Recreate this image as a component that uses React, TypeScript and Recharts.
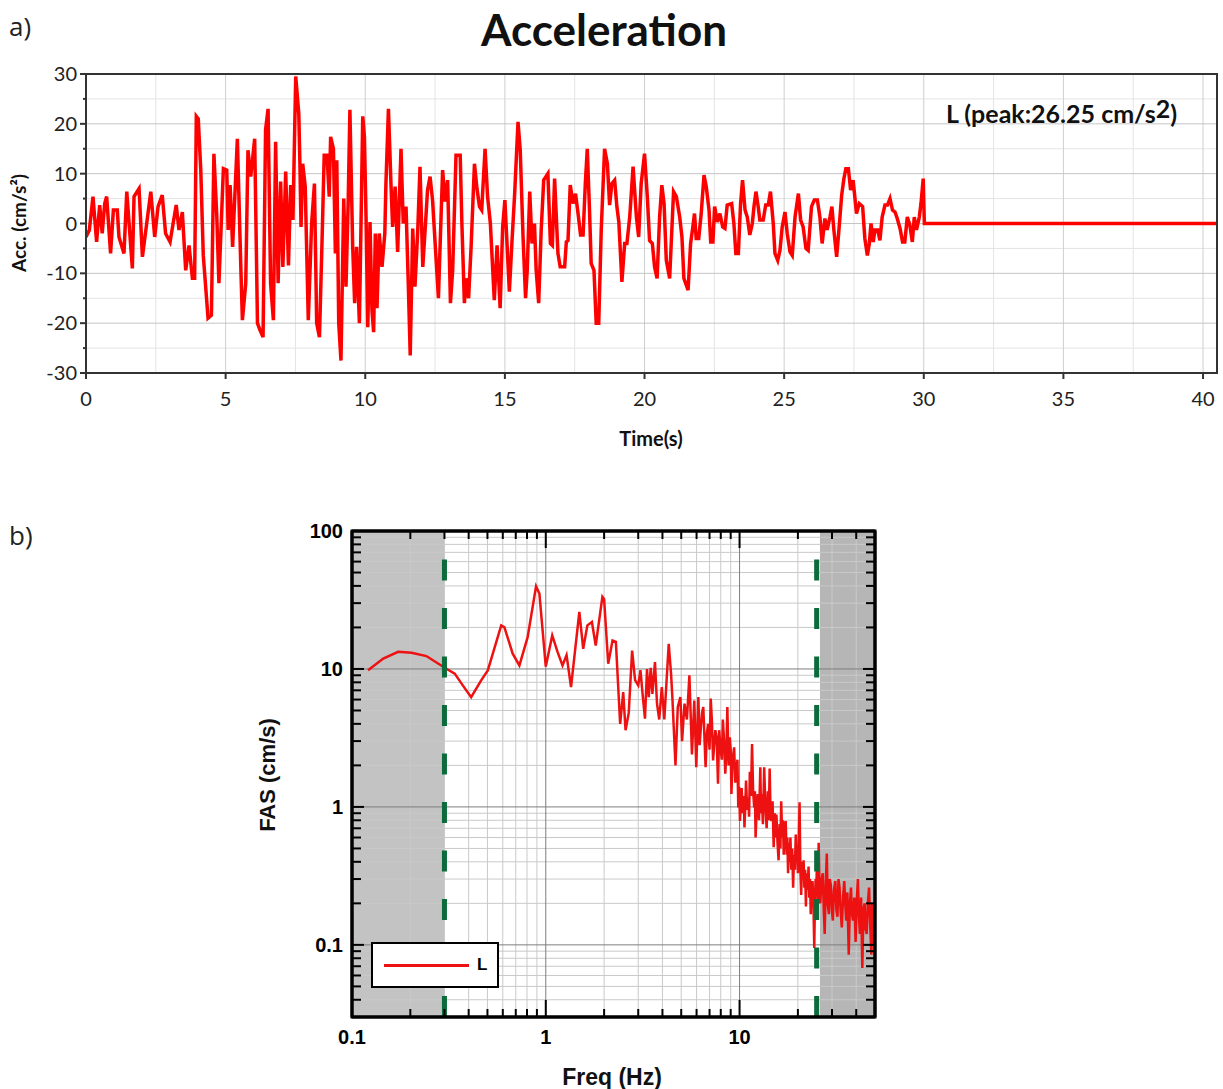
import React from 'react';
import { LineChart, ComposedChart, Line, XAxis, YAxis, ReferenceLine, ReferenceArea } from 'recharts';

// ---- a) acceleration record ----
const accTime = [
  0.0, 0.12, 0.25, 0.38, 0.49, 0.58, 0.67, 0.74, 0.88, 0.98, 1.12, 1.18, 1.36, 1.46, 1.66, 1.72, 1.9, 2.02,
  2.32, 2.46, 2.58, 2.73, 2.85, 3.01, 3.23, 3.33, 3.45, 3.57, 3.69, 3.81, 3.89, 3.95, 4.02, 4.11, 4.2, 4.37,
  4.49, 4.58, 4.68, 4.76, 4.92, 5.04, 5.09, 5.16, 5.25, 5.42, 5.54, 5.6, 5.72, 5.8, 5.9, 6.04, 6.14, 6.23,
  6.34, 6.43, 6.52, 6.61, 6.71, 6.79, 6.88, 6.97, 7.05, 7.15, 7.25, 7.33, 7.41, 7.51, 7.62, 7.66, 7.7, 7.76,
  7.85, 7.96, 8.08, 8.18, 8.26, 8.36, 8.45, 8.53, 8.63, 8.71, 8.76, 8.86, 8.93, 8.98, 9.05, 9.13, 9.23, 9.31,
  9.39, 9.45, 9.55, 9.62, 9.69, 9.79, 9.91, 9.97, 10.03, 10.09, 10.17, 10.24, 10.3, 10.36, 10.42, 10.5, 10.6,
  10.7, 10.74, 10.83, 10.92, 10.98, 11.07, 11.16, 11.28, 11.36, 11.46, 11.54, 11.61, 11.7, 11.78, 11.88,
  11.96, 12.06, 12.15, 12.23, 12.32, 12.41, 12.51, 12.62, 12.69, 12.77, 12.86, 12.95, 13.05, 13.13, 13.25,
  13.4, 13.46, 13.55, 13.61, 13.7, 13.79, 13.91, 14.0, 14.09, 14.17, 14.29, 14.38, 14.48, 14.62, 14.72,
  14.83, 14.92, 15.0, 15.16, 15.25, 15.35, 15.47, 15.55, 15.65, 15.74, 15.8, 15.89, 15.97, 16.06, 16.12,
  16.21, 16.3, 16.39, 16.54, 16.63, 16.7, 16.78, 16.9, 16.98, 17.14, 17.2, 17.26, 17.34, 17.44, 17.53, 17.62,
  17.71, 17.8, 17.88, 17.95, 18.03, 18.09, 18.19, 18.27, 18.36, 18.45, 18.57, 18.67, 18.75, 18.83, 18.93,
  19.01, 19.08, 19.19, 19.29, 19.37, 19.47, 19.59, 19.71, 19.79, 19.88, 20.0, 20.1, 20.18, 20.28, 20.36,
  20.45, 20.54, 20.62, 20.7, 20.78, 20.9, 21.04, 21.14, 21.26, 21.34, 21.41, 21.56, 21.65, 21.73, 21.79,
  21.85, 21.94, 22.03, 22.13, 22.21, 22.31, 22.37, 22.45, 22.51, 22.61, 22.7, 22.8, 22.88, 22.96, 23.12,
  23.2, 23.27, 23.36, 23.44, 23.51, 23.6, 23.68, 23.77, 23.86, 23.92, 23.99, 24.07, 24.13, 24.25, 24.34,
  24.43, 24.51, 24.61, 24.67, 24.77, 24.85, 24.93, 25.03, 25.11, 25.21, 25.29, 25.39, 25.51, 25.59, 25.68,
  25.78, 25.86, 25.98, 26.08, 26.19, 26.28, 26.36, 26.46, 26.54, 26.64, 26.71, 26.78, 26.88, 26.97, 27.06,
  27.14, 27.21, 27.3, 27.38, 27.47, 27.59, 27.69, 27.81, 27.89, 27.98, 28.05, 28.11, 28.19, 28.25, 28.35,
  28.43, 28.51, 28.61, 28.7, 28.79, 28.88, 28.97, 29.05, 29.15, 29.24, 29.32, 29.41, 29.5, 29.59, 29.66,
  29.74, 29.84, 29.9, 29.98, 30.02, 40.5,
];
const accValue = [
  -2.7, -1.3, 5.4, -3.7, 3.7, -2, 4, 5.4, -6, 2.7, 2.7, -2.7, -6, 6.4, -9, 5.4, 7, -6.7,
  6.4, -2.7, 3.4, 5.7, -2, -3.7, 3.7, -1.3, 2.3, -9.4, -4.4, -11, -11, 21.5, 21, 10.7, -6.4, -19,
  -18.4, 14, 2, -12, 11, 10.7, -1.3, 7.7, -4.7, 17, -8, -19.4, -12, 14.7, 9.4, 17, -20, -21.4,
  -22.8, 18.8, 23, -12, -19.4, 16.4, -12, 8.4, -8.7, 10.4, -8.4, 7.7, 0.7, 29.5, 22, 12, -0.7, 12,
  7.4, -19.4, 0, 8, -20, -22.8, -4, 13.7, 13.7, 5.4, 17.4, 15, -6, 12.7, -20, -27.5, 5, -12.7,
  4.7, 22.8, -4.7, -16, -4.7, -20, 21.5, 17.4, 0.7, -20.8, 0.3, -17.4, -21.8, -2, -17, -2, -8.7,
  -2, 8, 23, 8, -0.7, 7.4, -5.7, 15, 0, 3.4, -12, -26.5, -1, -12.7, -1.3,
  11.4, -8.7, -0.7, 6.7, 9.4, 4.7, -4.7, -15, -2.7, 10.7, 4.4, 8.7, -16, -9.4, 13.7,
  13.7, 0, -16, -11, -15, -4.7, 12, 7, 3.4, 2.7, 15, 5.4, 0, -15.4, -4.4,
  -17, -0.7, 4.7, -13.7, -4, 6, 20.4, 14.7, -2.7, -15, -9.4, 6.4, -4, 0, -9.4,
  -16, -1.3, 8.7, 10, -4, -4.4, 9, -6, -8.7, -8.7, -3.7, -3.4, 7.7, 4, 6, 2,
  -2.3, -2.3, 8, 15, 2.7, -8, -9.4, -20, -20, -1.3, 15, 12, 3.7, 8, 8.7,
  3.4, 0.3, -11.7, -4, -4, 1.3, 11.4, 1.3, -2.7, 8, 14, 5.4, -3.4, -4, -8.7,
  -11, 1.3, 7.7, 4, -7.4, -11, 6.4, 5.4, 1.3, -2.7, -11, -13.4, -4, -0.7, 2,
  -3, -3, 2, 9.7, 7.4, 2.7, -3.7, -3.7, 3.4, 0.3, 2, -0.7, -1, 3.7, 4,
  0, -6, -6, 4, 8.7, 2.7, 1.3, -2.3, 0, 3.4, 6.4, 3.4, 0.7, 0.7, 3.7,
  3.7, 6.4, 0, -6, -7.4, -5.4, -0.7, 2.3, -2, -5.7, -6.4, 1.3, 6, 0.7, -0.7,
  -5, -5.4, 3.4, 4.7, 4.7, 1.3, -4, 1, -1.3, 1.3, 3.4, -1.3, -6.7, -0.7, 5.7,
  9, 11, 11, 6.7, 8.7, 2, 4, 3.4, -3, -6.4, -4, 0, -3.7, -1.3, -1.3,
  -3.4, 1.3, 3.7, 3.7, 5, 2.7, 2.3, 1, -1, -3.7, -3.7, 1.3, -0.3, -3.7, 1.3,
  -1.3, 1.3, 4, 9, 0, 0,
];
const timeTicks = [0, 5, 10, 15, 20, 25, 30, 35, 40];
const timeMinorGrid = [2.5, 7.5, 12.5, 17.5, 22.5, 27.5, 32.5, 37.5];
const accTicks = [-30, -25, -20, -15, -10, -5, 0, 5, 10, 15, 20, 25, 30];
const accMajorGrid = [-20, -10, 0, 10, 20];
const accMinorGrid = [-25, -15, -5, 5, 15, 25];

// ---- b) Fourier amplitude spectrum ----
const freq = [
  0.121, 0.145, 0.173, 0.203, 0.242, 0.301, 0.339, 0.373, 0.412, 0.464, 0.502, 0.533, 0.589, 0.612, 0.675,
  0.731, 0.806, 0.891, 0.927, 1.0, 1.08, 1.15, 1.22, 1.28, 1.35, 1.49, 1.56, 1.64, 1.73, 1.81, 1.96, 2.0,
  2.1, 2.21, 2.3, 2.42, 2.51, 2.58, 2.68, 2.79, 2.89, 3.0, 3.08, 3.17, 3.25, 3.33, 3.4, 3.48, 3.55, 3.66,
  3.75, 3.85, 3.97, 4.09, 4.31, 4.43, 4.5, 4.67, 4.8, 4.95, 5.05, 5.2, 5.35, 5.51, 5.68, 5.84,
  5.98, 6.13, 6.22, 6.3, 6.4, 6.5, 6.6, 6.68, 6.78, 6.88, 7.0, 7.1, 7.2, 7.3, 7.4, 7.5, 7.62, 7.74, 7.85,
  7.97, 8.1, 8.2, 8.32, 8.44, 8.55, 8.65, 8.78, 8.9, 9.0, 9.08, 9.2, 9.38, 9.5, 9.66, 9.75, 9.85,
  9.95, 10.05, 10.15, 10.25, 10.4, 10.5, 10.6, 10.7, 10.8, 10.95, 11.1, 11.2, 11.3, 11.45, 11.6, 11.75,
  11.9, 12.0, 12.1, 12.25, 12.4, 12.6, 12.8, 12.9, 13.0, 13.2, 13.4, 13.6, 13.8, 14.0, 14.15, 14.3, 14.45,
  14.6, 14.8, 15.0, 15.2, 15.35, 15.5, 15.7, 15.9, 16.1, 16.25, 16.4, 16.6, 16.75, 16.9, 17.1, 17.3, 17.5,
  17.65, 17.8, 18.0, 18.15, 18.3, 18.5, 18.7, 18.9, 19.1, 19.3, 19.5, 19.7, 19.85, 20.0, 20.2, 20.4, 20.6,
  20.8, 21.0, 21.2, 21.4, 21.6, 21.8, 22.0, 22.2, 22.45, 22.7, 22.9, 23.1, 23.3, 23.5, 23.65, 23.8, 24.05,
  24.3, 24.5, 24.7, 24.9, 25.1, 25.3, 25.6, 25.85, 26.1, 26.5, 26.9, 27.2, 27.5, 27.8, 28.2, 28.5, 28.9,
  29.2, 29.6, 29.95, 30.3, 30.7, 31.2, 31.6, 32.0, 32.4, 32.8, 33.2, 33.7, 34.2, 34.7, 35.1, 35.5, 36.0,
  36.6, 37.1, 37.6, 38.0, 38.5, 39.1, 39.7, 40.2, 40.8, 41.3, 41.8, 42.4, 43.0, 43.6, 44.2, 44.7, 45.3,
  45.9, 46.6, 47.2, 47.9, 48.4, 48.9, 49.5, 50,
];
const fas = [
  9.77, 11.9, 13.3, 13.1, 12.4, 10.2, 9.25, 7.6, 6.25, 8.27, 9.77, 12.9, 20.7, 20.0, 12.9,
  10.6, 17.0, 39.8, 35.2, 10.4, 17.5, 13.3, 10.6, 12.6, 7.4, 25.9, 14.0, 20.7, 21.9, 14.8, 33.3, 32,
  10.9, 16.1, 15.7, 4.0, 6.8, 3.6, 4.8, 13.6, 8.3, 7.6, 9.8, 6.25, 4.36, 10.0, 6.25, 10.2, 6.6, 11.2,
  5.6, 4.3, 7.4, 4.3, 15.2, 9.25, 6.25, 2.0, 5.3, 6.25, 3.0, 5.6, 4.3, 9.0, 2.4, 5.9,
  1.94, 6.25, 2.8, 3.6, 4.8, 5.3, 3.0, 1.94, 3.4, 4.0, 2.6, 6.1, 4.2, 2.17, 2.8, 3.6, 3.2, 1.47, 3.6,
  2.7, 2.2, 4.3, 3.0, 1.74, 2.5, 5.3, 2.0, 3.2, 2.6, 1.24, 2.2, 2.7, 1.5, 1.94, 2.2, 0.99,
  1.4, 0.79, 1.1, 1.37, 0.9, 1.2, 0.71, 1.0, 1.55, 0.95, 1.17, 0.85, 1.8, 1.2, 2.86, 1.3,
  0.99, 1.3, 0.6, 0.95, 1.24, 0.8, 1.94, 0.9, 1.24, 0.75, 1.94, 1.0, 0.7, 1.3, 0.8, 1.9, 0.9,
  0.79, 1.1, 0.51, 0.9, 0.6, 0.88, 0.55, 0.41, 0.75, 0.5, 1.1, 0.6, 0.8, 0.45, 0.65, 0.79, 0.45,
  0.6, 0.33, 0.55, 0.4, 0.6, 0.35, 0.5, 0.26, 0.45, 0.35, 0.63, 0.4, 0.5, 0.33, 0.55, 1.08, 0.35,
  0.23, 0.4, 0.3, 0.41, 0.26, 0.35, 0.19, 0.33, 0.25, 0.37, 0.22, 0.3, 0.167, 0.26, 0.2, 0.29, 0.2,
  0.095, 0.22, 0.3, 0.26, 0.4, 0.2, 0.55, 0.25, 0.2, 0.3, 0.33, 0.18, 0.12, 0.25, 0.46, 0.2, 0.167,
  0.3, 0.27, 0.18, 0.15, 0.25, 0.29, 0.18, 0.16, 0.3, 0.26, 0.18, 0.134, 0.22, 0.29, 0.2, 0.15, 0.24,
  0.085, 0.2, 0.26, 0.17, 0.15, 0.22, 0.105, 0.2, 0.3, 0.16, 0.12, 0.22, 0.068, 0.18, 0.2, 0.13, 0.12,
  0.2, 0.26, 0.14, 0.085, 0.2, 0.167, 0.1, 0.134,
];
const freqMajor = [0.1, 1, 10];
const freqMinor = [0.2, 0.3, 0.4, 0.5, 0.6, 0.7, 0.8, 0.9, 2, 3, 4, 5, 6, 7, 8, 9, 20, 30, 40];
const fasMajor = [0.1, 1, 10, 100];
const fasMinor = [0.04, 0.05, 0.06, 0.07, 0.08, 0.09, 0.2, 0.3, 0.4, 0.5, 0.6, 0.7, 0.8, 0.9, 2, 3, 4, 5, 6, 7, 8, 9, 20, 30, 40, 50, 60, 70, 80, 90];
const fasLabels: Record<number, string> = { 0.1: '0.1', 1: '1', 10: '10', 100: '100' };
const freqLabels: Record<number, string> = { 0.1: '0.1', 1: '1', 10: '10' };
const cutoffFreq = [0.3, 25];
const shadedBands = [
  { from: 0.1, to: 0.3, color: '#c3c3c3' },
  { from: 26, to: 50, color: '#b6b6b6' },
];

const accData = accTime.map((t, i) => ({ t, acc: accValue[i] }));
const fasData = freq.map((f, i) => ({ f, amp: fas[i] }));

const fontA = 'Lato, "Open Sans", sans-serif';
const fontB = '"Liberation Sans", Arial, sans-serif';

const TimeTick = (props: any) => {
  const { x, y, payload } = props;
  return (
    <g>
      <line x1={x} x2={x} y1={y} y2={y + 6} stroke="#333" strokeWidth={2} />
      <text x={x} y={y + 33} textAnchor="middle" fontSize={20} fontFamily={fontA} fill="#222">
        {payload.value}
      </text>
    </g>
  );
};

const AccTick = (props: any) => {
  const { x, y, payload } = props;
  const major = payload.value % 10 === 0;
  return (
    <g>
      <line x1={x - (major ? 6 : 3)} x2={x} y1={y} y2={y} stroke="#333" strokeWidth={2} />
      {major && (
        <text x={x - 9} y={y + 7} textAnchor="end" fontSize={20} fontFamily={fontA} fill="#222">
          {payload.value}
        </text>
      )}
    </g>
  );
};

const FreqTickBottom = (props: any) => {
  const { x, y, payload } = props;
  const label = freqLabels[payload.value];
  const major = label !== undefined;
  return (
    <g>
      <line x1={x} x2={x} y1={y} y2={y - (major ? 17 : 8)} stroke="#000" strokeWidth={2} />
      {major && (
        <text x={x} y={y + 27} textAnchor="middle" fontSize={20} fontWeight="bold" fontFamily={fontB} fill="#000">
          {label}
        </text>
      )}
    </g>
  );
};

const FreqTickTop = (props: any) => {
  const { x, y, payload } = props;
  const major = freqLabels[payload.value] !== undefined;
  return <line x1={x} x2={x} y1={y} y2={y + (major ? 17 : 8)} stroke="#000" strokeWidth={2} />;
};

const FasTickLeft = (props: any) => {
  const { x, y, payload } = props;
  const label = fasLabels[payload.value];
  const major = label !== undefined;
  return (
    <g>
      <line x1={x} x2={x + (major ? 12 : 9)} y1={y} y2={y} stroke="#000" strokeWidth={2} />
      {major && (
        <text x={x - 9} y={y + 7} textAnchor="end" fontSize={20} fontWeight="bold" fontFamily={fontB} fill="#000">
          {label}
        </text>
      )}
    </g>
  );
};

const FasTickRight = (props: any) => {
  const { x, y, payload } = props;
  const major = fasLabels[payload.value] !== undefined;
  return <line x1={x} x2={x - (major ? 12 : 9)} y1={y} y2={y} stroke="#000" strokeWidth={2} />;
};

const abs = (left: number, top: number, extra: React.CSSProperties = {}): React.CSSProperties => ({
  position: 'absolute',
  left,
  top,
  whiteSpace: 'nowrap',
  lineHeight: 1,
  ...extra,
});

export default function App() {
  return (
    <div style={{ position: 'absolute', left: 0, top: 0, width: 1223, height: 1089, background: '#fff', overflow: 'hidden' }}>
      {/* panel a */}
      <div style={abs(9, 13, { fontFamily: '"Open Sans", sans-serif', fontSize: 26, color: '#222' })}>a)</div>
      <div style={abs(604, 7, { transform: 'translateX(-50%)', fontFamily: fontA, fontWeight: 'bold', fontSize: 44, color: '#111' })}>
        Acceleration
      </div>
      <div style={abs(0, 0, { width: 1223 })}>
        <LineChart width={1223} height={460} data={accData} margin={{ top: 74, right: 6, bottom: 57, left: 26 }}>
          <XAxis
            dataKey="t"
            type="number"
            domain={[0, 40.5]}
            allowDataOverflow
            ticks={timeTicks}
            interval={0}
            tickSize={0}
            tickMargin={0}
            tickLine={false}
            tick={TimeTick}
            height={30}
            axisLine={{ stroke: '#333', strokeWidth: 2 }}
          />
          <YAxis
            type="number"
            domain={[-30, 30]}
            allowDataOverflow
            ticks={accTicks}
            interval={0}
            tickSize={0}
            tickMargin={0}
            tickLine={false}
            tick={AccTick}
            width={60}
            axisLine={{ stroke: '#333', strokeWidth: 2 }}
          />
          {timeMinorGrid.map((v) => (
            <ReferenceLine key={'tm' + v} x={v} stroke="#e4e4e4" strokeWidth={1} zIndex={-60} />
          ))}
          {accMinorGrid.map((v) => (
            <ReferenceLine key={'am' + v} y={v} stroke="#e4e4e4" strokeWidth={1} zIndex={-60} />
          ))}
          {timeTicks.slice(1).map((v) => (
            <ReferenceLine key={'tM' + v} x={v} stroke="#cfcfcf" strokeWidth={1} zIndex={-50} />
          ))}
          {accMajorGrid.map((v) => (
            <ReferenceLine key={'aM' + v} y={v} stroke="#c4c4c4" strokeWidth={1} zIndex={-50} />
          ))}
          <Line
            dataKey="acc"
            type="linear"
            stroke="#ff0000"
            strokeWidth={3.5}
            dot={false}
            isAnimationActive={false}
          />
          <ReferenceArea x1={0} x2={40.5} y1={-30} y2={30} fill="none" stroke="#333" strokeWidth={2} zIndex={600} />
        </LineChart>
      </div>
      <div style={abs(18, 223, { transform: 'translate(-50%, -50%) rotate(-90deg)', fontFamily: fontA, fontWeight: 'bold', fontSize: 19, color: '#111' })}>
        Acc. (cm/s²)
      </div>
      <div style={abs(651, 438, { transform: 'translate(-50%, -50%)', fontFamily: fontA, fontWeight: 'bold', fontSize: 20, color: '#111' })}>
        Time(s)
      </div>
      <div style={abs(946, 101, { fontFamily: fontA, fontWeight: 'bold', fontSize: 25, color: '#111' })}>
        L (peak:26.25 cm/s<span style={{ position: 'relative', top: -5 }}>2</span>)
      </div>

      {/* panel b */}
      <div style={abs(9, 522, { fontFamily: '"Open Sans", sans-serif', fontSize: 26, color: '#222' })}>b)</div>
      <div style={abs(0, 480, { width: 1223 })}>
        <ComposedChart width={1223} height={609} data={fasData} margin={{ top: 50, right: 347, bottom: 32, left: 292 }}>
          <XAxis
            dataKey="f"
            type="number"
            scale="log"
            domain={[0.1, 50]}
            allowDataOverflow
            ticks={[...freqMajor, ...freqMinor]}
            interval={0}
            tickSize={0}
            tickMargin={0}
            tickLine={false}
            tick={FreqTickBottom}
            height={40}
            axisLine={{ stroke: '#000', strokeWidth: 3 }}
          />
          <XAxis
            xAxisId="top"
            orientation="top"
            dataKey="f"
            type="number"
            scale="log"
            domain={[0.1, 50]}
            allowDataOverflow
            ticks={[...freqMajor, ...freqMinor]}
            interval={0}
            tickSize={0}
            tickMargin={0}
            tickLine={false}
            tick={FreqTickTop}
            height={1}
            axisLine={{ stroke: '#000', strokeWidth: 3 }}
          />
          <YAxis
            type="number"
            scale="log"
            domain={[0.03, 100]}
            allowDataOverflow
            ticks={[...fasMajor, ...fasMinor]}
            interval={0}
            tickSize={0}
            tickMargin={0}
            tickLine={false}
            tick={FasTickLeft}
            width={60}
            axisLine={{ stroke: '#000', strokeWidth: 3 }}
          />
          <YAxis
            yAxisId="right"
            orientation="right"
            type="number"
            scale="log"
            domain={[0.03, 100]}
            allowDataOverflow
            ticks={[...fasMajor, ...fasMinor]}
            interval={0}
            tickSize={0}
            tickMargin={0}
            tickLine={false}
            tick={FasTickRight}
            width={1}
            axisLine={{ stroke: '#000', strokeWidth: 3 }}
          />
          {shadedBands.map((b) => (
            <ReferenceArea key={'sh' + b.from} x1={b.from} x2={b.to} fill={b.color} fillOpacity={1} stroke="none" zIndex={-80} />
          ))}
          {freqMinor.map((v) => (
            <ReferenceLine key={'fm' + v} x={v} stroke="#c9c9c9" strokeWidth={1} zIndex={-60} />
          ))}
          {fasMinor.map((v) => (
            <ReferenceLine key={'am' + v} y={v} stroke="#c9c9c9" strokeWidth={1} zIndex={-60} />
          ))}
          {freqMajor.slice(1).map((v) => (
            <ReferenceLine key={'fM' + v} x={v} stroke="#7d7d7d" strokeWidth={1} zIndex={-50} />
          ))}
          {fasMajor.slice(0, 3).map((v) => (
            <ReferenceLine key={'aM' + v} y={v} stroke="#7d7d7d" strokeWidth={1} zIndex={-50} />
          ))}
          {/* invisible series so the top and right axes are drawn */}
          <Line
            xAxisId="top"
            yAxisId="right"
            dataKey="amp"
            stroke="none"
            strokeWidth={0}
            dot={false}
            activeDot={false}
            legendType="none"
            isAnimationActive={false}
          />
          <Line
            dataKey="amp"
            type="linear"
            stroke="#ee1111"
            strokeWidth={2.5}
            dot={false}
            isAnimationActive={false}
          />
          {cutoffFreq.map((v) => (
            <ReferenceLine key={'c' + v} x={v} stroke="#0b6b3a" strokeWidth={5} strokeDasharray="21 27.5" zIndex={450} />
          ))}
          <ReferenceArea x1={0.1} x2={50} y1={0.03} y2={100} fill="none" stroke="#000" strokeWidth={3} zIndex={600} />
        </ComposedChart>
      </div>
      <div style={abs(268, 775, { transform: 'translate(-50%, -50%) rotate(-90deg)', fontFamily: fontB, fontWeight: 'bold', fontSize: 22, color: '#111' })}>
        FAS (cm/s)
      </div>
      <div style={abs(612, 1077, { transform: 'translate(-50%, -50%)', fontFamily: fontB, fontWeight: 'bold', fontSize: 23, color: '#111' })}>
        Freq (Hz)
      </div>
      <div
        style={abs(371, 942, {
          width: 128,
          height: 46,
          boxSizing: 'border-box',
          border: '2px solid #000',
          background: '#fff',
          fontFamily: fontB,
        })}
      >
        <div style={{ position: 'absolute', left: 11, top: 20, width: 85, height: 2.5, background: '#ee1111' }} />
        <div style={{ position: 'absolute', left: 104, top: 12, fontWeight: 'bold', fontSize: 17 }}>L</div>
      </div>
    </div>
  );
}
